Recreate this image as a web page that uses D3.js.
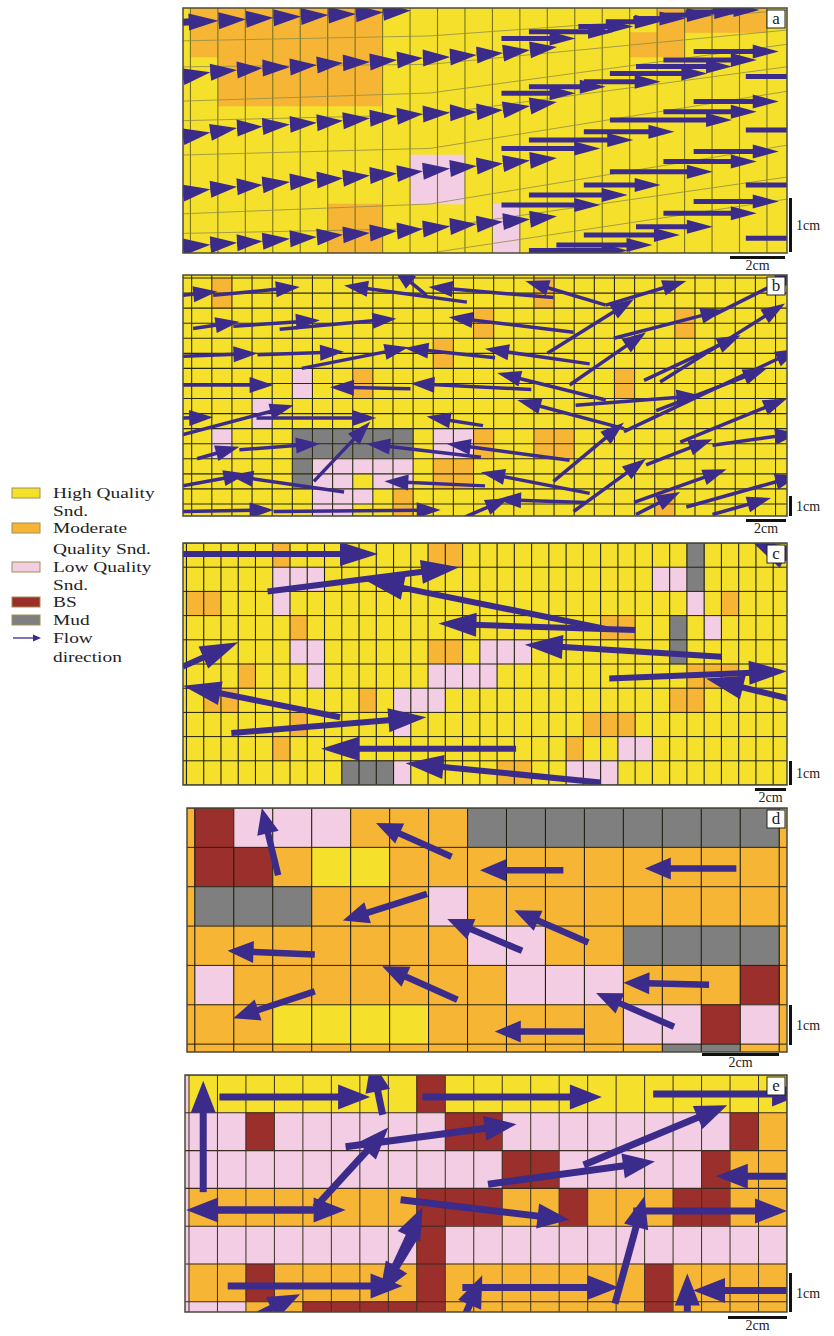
<!DOCTYPE html>
<html>
<head>
<meta charset="utf-8">
<script src="https://cdn.jsdelivr.net/npm/d3@7/dist/d3.min.js"></script>
<style>
body { margin: 0; background: #fff; }
text { font-family: "Liberation Serif", "DejaVu Serif", serif; fill: #222; }
</style>
</head>
<body>
<div id="svg"></div>
<script>
var fills = {Y: "#f5e12b", O: "#f6b535", P: "#f2cde3", B: "#9a2f2b", G: "#7f7f7f"};
var arrowColor = "#3b2b8b";

// legend
var legendKeys = ["Y", "O", "P", "B", "G"];
var legendLines = [["High Quality", "Snd."], ["Moderate", "Quality Snd."], ["Low Quality", "Snd."], ["BS"], ["Mud"]];
var flowLines = ["Flow", "direction"];

// panel a : 22 cols x 10 rows, cells as [row, firstCol, lastCol, type]
var aSpans = [[0,0,6,"O"],[1,0,6,"O"],[2,1,6,"O"],[3,1,6,"O"],[0,17,20,"O"],[1,16,17,"O"],
  [6,8,9,"P"],[7,8,9,"P"],[8,11,11,"P"],[9,11,11,"P"],[8,5,6,"O"],[9,5,6,"O"]];
// thin slanted boundaries [col,row] points
var aRowLines = [[[0,1.34],[9,1.14],[22,0.1]], [[0,2.4],[9,2.3],[22,0.9]], [[0,3.8],[9,3.47],[22,1.48]],
  [[0,4.6],[9,4.35],[22,2.4]], [[0,6.0],[9,5.73],[22,3.4]], [[0,8.4],[9,8.0],[22,5.6]],
  [[0,9.2],[9,9.0],[22,6.9]], [[9,10],[22,7.8]]];
// chains of arrows: tail then successive heads [col,row]
var aChains = [
  [[0,0.58],[1.3,0.52],[2.3,0.46],[3.3,0.4],[4.3,0.35],[5.3,0.29],[6.3,0.24],[7.3,0.17],[8.3,0.1]],
  [[0,2.8],[1.0,2.62],[1.97,2.53],[2.9,2.45],[3.9,2.41],[4.88,2.33],[5.83,2.24],[6.81,2.2],[7.8,2.12],[8.74,2.04],[9.73,2.0],[10.7,1.92],[11.66,1.84],[12.64,1.71],[13.62,1.59]],
  [[0,5.25],[1.0,5.08],[1.97,4.9],[2.9,4.84],[3.9,4.75],[4.88,4.68],[5.83,4.6],[6.81,4.5],[7.8,4.42],[8.74,4.33],[9.73,4.28],[10.7,4.24],[11.66,4.16],[12.64,4.0],[13.62,3.84]],
  [[0,7.55],[1.0,7.4],[1.97,7.3],[2.9,7.22],[3.9,7.1],[4.88,7.02],[5.83,6.95],[6.81,6.84],[7.8,6.76],[8.74,6.66],[9.73,6.55],[10.7,6.45],[11.66,6.35],[12.64,6.22],[13.62,6.12]],
  [[0,9.75],[1.0,9.66],[1.97,9.58],[2.9,9.52],[3.9,9.42],[4.88,9.35],[5.83,9.26],[6.81,9.18],[7.8,9.1],[8.74,9.02],[9.73,8.92],[10.7,8.82],[11.66,8.72],[12.64,8.62],[13.62,8.5]]
];
// horizontal stair arrows [tailCol, headCol, row, hasHead]
var aStairs = [
  [11.6,14.3,1.24,1],[12.6,15.7,0.97,1],[14.4,16.4,0.76,1],[15.4,17.4,0.56,1],[16.4,18.3,0.43,1],[17.4,19.3,0.29,1],[18.3,20.3,0.16,1],[19.3,21.0,0.08,1],
  [18.6,21.7,1.78,1],[17.5,20.9,2.12,1],[16.5,20.0,2.39,1],[15.55,19.1,2.67,1],[20.5,22.2,2.8,0],[14.6,17.4,3.01,1],[12.6,15.4,3.21,1],[11.6,14.3,3.48,1],
  [18.6,21.7,3.82,1],[17.5,20.9,4.23,1],[15.55,20.0,4.57,1],[20.5,22.2,4.98,0],[14.6,17.9,5.05,1],[12.6,16.4,5.39,1],[11.6,15.2,5.73,1],
  [18.6,21.7,5.86,1],[17.5,20.9,6.27,1],[15.55,19.3,6.68,1],[20.5,22.2,7.22,0],[14.6,17.4,7.22,1],[12.6,16.2,7.63,1],[18.6,21.7,7.9,1],[11.6,15.2,8.04,1],
  [17.5,20.9,8.38,1],[16.5,19.3,8.93,1],[14.6,18.1,9.27,1],[20.5,22.2,9.4,0],[13.6,17.1,9.67,1],[12.6,16.2,9.9,1]
];

// panel b : 30 cols x 16 rows
var bSpans = [[0,1,1,"O"],[1,1,1,"O"],[0,17,17,"O"],[1,17,17,"O"],
  [2,14,14,"O"],[3,14,14,"O"],[2,24,24,"O"],[3,24,24,"O"],[4,12,12,"O"],[5,12,12,"O"],
  [6,5,5,"P"],[7,5,5,"P"],[6,8,8,"O"],[7,8,8,"O"],[6,21,21,"O"],[7,21,21,"O"],
  [8,3,3,"P"],[9,3,3,"P"],
  [10,1,1,"P"],[11,1,1,"P"],[10,5,10,"G"],[11,5,10,"G"],[10,12,13,"P"],[11,12,13,"P"],[10,14,14,"O"],[11,14,14,"O"],[10,17,18,"O"],[11,17,18,"O"],
  [12,5,5,"G"],[13,5,5,"G"],[12,6,10,"P"],[13,6,7,"P"],[13,9,10,"P"],[12,12,13,"O"],[13,12,13,"O"],
  [14,6,8,"P"],[14,10,10,"O"],[15,6,7,"P"],[15,10,10,"O"],[14,23,23,"O"],[15,23,23,"O"]];
var bArrows = [
  [0,1.35,1.7,1.1],[1.5,1.35,5.8,0.8],[14.1,1.8,8.0,0.7],[18.4,1.5,12.2,0.8],[12.1,1.35,10.4,-0.5],
  [21.0,2.0,17.0,0.4],[21.0,2.0,25.0,0.4],[0.5,3.55,2.8,3.1],[2.5,3.4,6.8,3.0],[4.8,3.6,10.6,2.9],
  [19.4,3.8,13.2,2.8],[18.1,5.2,22.4,1.6],[21.4,4.2,26.9,2.3],[26.3,2.7,30.6,-0.2],[23.7,7.1,29.9,1.9],
  [0,5.4,3.7,5.2],[3.7,5.3,8.0,5.1],[5.9,6.2,11.2,4.8],[15.5,5.5,11.0,4.85],[20.2,5.9,15.0,4.9],
  [19.2,7.3,23.0,3.8],[22.9,7.0,27.7,4.0],[0,7.3,4.5,7.3],[11.3,7.55,7.3,7.45],[17.3,7.6,11.3,7.2],
  [21.0,8.3,15.6,6.5],[21.9,10.2,16.6,8.3],[19.5,8.65,25.7,8.0],[23.5,9.0,29.0,6.2],[24.7,11.1,30.0,8.2],
  [18.4,13.7,21.9,9.8],[21.9,10.4,30.6,4.9],[19.4,15.7,23.0,12.2],[23.0,12.6,26.3,10.9],[26.3,11.3,30.6,10.5],
  [22.4,15.1,27.0,12.9],[22.5,15.9,24.7,14.4],[26.3,15.9,29.2,14.8],[25.0,15.4,30.6,13.3],[20.2,14.5,14.8,13.1],
  [19.2,12.3,13.1,11.2],[0,9.5,1.5,9.45],[0,10.6,5.5,8.65],[3.65,9.5,9.6,9.5],[14.9,10.0,12.1,9.4],
  [6.5,13.7,9.3,9.75],[0.7,12.2,2.8,11.4],[2.8,11.6,6.8,11.2],[14.8,12.1,9.1,11.2],[0,14.0,3.2,13.2],
  [8.0,14.4,2.3,13.3],[0,15.7,4.5,15.6],[4.5,15.7,12.8,15.6],[15.0,14.0,10.0,13.7],[13.6,16.3,16.2,14.8],
  [20.0,15.1,15.6,14.9]
];

// panel c : 35 cols x 10 rows
var cSpans = [[0,5,5,"O"],[0,14,15,"O"],[0,29,29,"G"],[1,29,29,"G"],
  [1,5,7,"P"],[2,5,5,"P"],[1,27,28,"P"],[2,29,29,"P"],[2,0,1,"O"],[2,31,31,"O"],
  [3,6,6,"O"],[3,24,25,"O"],[3,28,28,"G"],[4,28,28,"G"],[3,30,30,"P"],
  [4,6,7,"P"],[4,14,15,"O"],[4,17,19,"P"],
  [5,7,7,"P"],[5,3,3,"O"],[5,14,17,"P"],[5,29,31,"O"],
  [6,10,10,"O"],[6,12,14,"P"],[6,28,29,"O"],[6,1,2,"O"],
  [7,6,6,"O"],[7,12,12,"P"],[7,23,25,"O"],
  [8,5,5,"O"],[8,22,22,"O"],[8,25,26,"P"],
  [9,9,11,"G"],[9,12,12,"P"],[9,18,19,"O"],[9,22,24,"P"]];
var cArrows = [
  [0,0.45,11.3,0.45],[4.9,2.0,16.0,1.0],[24.5,3.55,10.6,1.55],[26.2,3.6,14.8,3.33],
  [31.2,4.7,19.8,4.2],[24.7,5.6,35.0,5.3],[35.5,6.5,30.3,5.6],[35.8,0.9,32.9,-0.1],
  [0,5.1,3.2,4.1],[9.1,7.2,0,5.9],[2.8,7.85,14.1,7.2],[19.3,8.5,8.0,8.5],[24.2,9.9,12.9,9.1]
];

// panel d : 15 cols x 6 rows (+ bottom sliver)
var dRows = ["BPPPOOOGGGGGGGG", "BBOYYOOOOOOOOOO", "GGGOOOPOOOOOOOO", "OOOOOOOPPOOGGGG",
  "POOOOOOOPPPOOOB", "OOYYYYOOOOOPPBP", "OOOOOOOOOOOOGGO"];
var dArrows = [
  [2.14,1.71,1.72,0.0],[6.59,1.24,4.65,0.38],[9.46,1.58,7.32,1.58],[13.9,1.54,11.55,1.54],
  [5.96,2.18,3.8,2.86],[8.4,3.63,6.48,2.82],[10.1,3.42,8.2,2.6],[3.08,3.72,0.84,3.63],
  [6.74,4.87,4.81,4.02],[13.2,4.49,11.0,4.44],[3.08,4.66,0.99,5.34],[12.3,5.56,10.3,4.7],
  [10.0,5.68,7.7,5.68]
];

// panel e : 21 cols x 6 rows (+ bottom sliver)
var eRows = ["YYYYYYYYBYYYYYYYYYYYY", "PPBPPPPPPBBPPPPPPPPBO", "PPPPPPPPPPPBBPPPPPBOO",
  "OOOOOOOOBBBOOBOOOBBOO", "PPPPPPPPBPPPPPPPPPPPP", "OOBOOOOOBOOOOOOOBOOOO", "PPOOBBBBBOOOOOOOBOOOO"];
var eArrows = [
  [0.5,3.1,0.5,0.15],[1.07,0.58,6.36,0.58],[6.8,1.05,6.4,-0.4],[8.2,0.58,14.5,0.58],[16.3,0.5,21.6,0.5],
  [5.5,1.9,11.5,1.3],[4.43,3.5,7.0,1.39],[13.86,2.38,18.9,0.8],[10.5,2.89,16.36,2.29],[21.2,2.68,18.5,2.68],
  [4.36,3.57,-0.1,3.57],[0.93,3.57,5.5,3.57],[7.43,3.3,13.36,3.83],[8.0,4.2,6.7,5.8],[6.9,5.6,8.2,3.5],
  [1.36,5.58,7.5,5.58],[2.4,6.35,3.9,5.8],[14.96,6.05,16.0,3.2],[15.6,3.6,21.0,3.6],[9.6,5.62,15.1,5.62],
  [9.7,6.35,10.3,5.3],[17.5,6.35,17.5,5.25],[21.2,5.7,17.7,5.7]
];

var svg = d3.select("#svg").append("svg").attr("width", 834).attr("height", 1336);

function spanCells(spans) {
  return spans.map(function(s) { return {r: s[0], c0: s[1], c1: s[2], k: s[3]}; });
}
function rowCells(rows) {
  var out = [];
  rows.forEach(function(str, r) {
    str.split("").forEach(function(ch, c) { out.push({r: r, c0: c, c1: c, k: ch}); });
  });
  return out;
}

function drawArrows(g, x, y, list, st) {
  list.forEach(function(d) {
    var x1 = x(d[0]), y1 = y(d[1]), x2 = x(d[2]), y2 = y(d[3]);
    var dx = x2 - x1, dy = y2 - y1, L = Math.sqrt(dx * dx + dy * dy);
    var ux = dx / L, uy = dy / L;
    var head = d[4] !== 0;
    var hl = Math.min(st.hl, L), hw = st.hw / 2;
    var bx = x2 - ux * hl, by = y2 - uy * hl;
    g.append("line")
      .attr("x1", x1).attr("y1", y1)
      .attr("x2", head ? bx + ux * 3 : x2).attr("y2", head ? by + uy * 3 : y2)
      .attr("stroke", arrowColor).attr("stroke-width", st.sw);
    if (head) {
      g.append("path")
        .attr("d", "M" + x2 + "," + y2 + "L" + (bx - uy * hw) + "," + (by + ux * hw) +
                   "L" + (bx + uy * hw) + "," + (by - ux * hw) + "Z")
        .attr("fill", arrowColor);
    }
  });
}

function panel(cfg) {
  var b = cfg.box;
  var x = d3.scaleLinear().domain(cfg.xd).range([b[0], b[2]]);
  var y = d3.scaleLinear().domain(cfg.yd).range([b[1], b[3]]);
  var ox = cfg.off[0], oy = cfg.off[1];

  svg.append("clipPath").attr("id", "clip-" + cfg.id)
    .append("rect").attr("x", b[0]).attr("y", b[1]).attr("width", b[2] - b[0]).attr("height", b[3] - b[1]);
  var g = svg.append("g").attr("clip-path", "url(#clip-" + cfg.id + ")");

  g.append("rect").attr("x", b[0]).attr("y", b[1]).attr("width", b[2] - b[0]).attr("height", b[3] - b[1])
    .attr("fill", fills[cfg.bg]);

  g.selectAll("rect.cell").data(cfg.cells).enter().append("rect")
    .attr("class", "cell")
    .attr("x", function(d) { return x(d.c0 + ox); })
    .attr("width", function(d) { return x(d.c1 + 1 + ox) - x(d.c0 + ox); })
    .attr("y", function(d) { return y(d.r + oy); })
    .attr("height", function(d) { return y(d.r + 1 + oy) - y(d.r + oy); })
    .attr("fill", function(d) { return fills[d.k]; })
    .attr("stroke", function(d) { return fills[d.k]; })
    .attr("stroke-width", 0.6);

  var vx = d3.range(Math.floor(cfg.xd[0]), Math.ceil(cfg.xd[1]) + 1).map(function(k) { return k + ox; });
  g.selectAll("line.v").data(vx).enter().append("line")
    .attr("x1", function(d) { return x(d); }).attr("x2", function(d) { return x(d); })
    .attr("y1", b[1]).attr("y2", b[3])
    .attr("stroke", cfg.vline[0]).attr("stroke-width", cfg.vline[1]);

  if (cfg.hline) {
    var hy = d3.range(Math.floor(cfg.yd[0]), Math.ceil(cfg.yd[1]) + 1).map(function(k) { return k + oy; });
    g.selectAll("line.h").data(hy).enter().append("line")
      .attr("y1", function(d) { return y(d); }).attr("y2", function(d) { return y(d); })
      .attr("x1", b[0]).attr("x2", b[2])
      .attr("stroke", cfg.hline[0]).attr("stroke-width", cfg.hline[1]);
  }

  // frame
  svg.append("rect").attr("x", b[0]).attr("y", b[1]).attr("width", b[2] - b[0]).attr("height", b[3] - b[1])
    .attr("fill", "none").attr("stroke", "#4a4a3a").attr("stroke-width", 1.5);

  return {x: x, y: y, g: g, box: b};
}

function decorate(p, label, sb) {
  var b = p.box;
  svg.append("rect").attr("x", b[2] - 20).attr("y", b[1] + 2).attr("width", 18).attr("height", 18)
    .attr("fill", "#fff").attr("stroke", "#222").attr("stroke-width", 1);
  svg.append("text").attr("x", b[2] - 11).attr("y", b[1] + 16).attr("text-anchor", "middle")
    .style("font-size", "17px").text(label);
  // scale bars
  svg.append("rect").attr("x", 789).attr("y", sb.v[0]).attr("width", 3).attr("height", sb.v[1] - sb.v[0]).attr("fill", "#111");
  svg.append("text").attr("x", 796).attr("y", (sb.v[0] + sb.v[1]) / 2 + 5).style("font-size", "14px").text("1cm");
  svg.append("rect").attr("x", sb.h[0]).attr("y", sb.h[2]).attr("width", sb.h[1] - sb.h[0]).attr("height", 3).attr("fill", "#111");
  svg.append("text").attr("x", (sb.h[0] + sb.h[1]) / 2).attr("y", sb.h[2] + 14).attr("text-anchor", "middle")
    .style("font-size", "14px").text("2cm");
}

// ---- panel a
var pa = panel({id: "a", box: [183, 8, 787, 253], xd: [0, 22], yd: [0, 10], off: [0.27, 0], bg: "Y",
  cells: spanCells(aSpans), vline: ["#77731f", 1.1]});
var rowLine = d3.line().x(function(d) { return pa.x(d[0]); }).y(function(d) { return pa.y(d[1]); });
pa.g.selectAll("path.rl").data(aRowLines).enter().append("path")
  .attr("d", rowLine).attr("fill", "none").attr("stroke", "#8f8d4a").attr("stroke-width", 0.8);
var aChainArrows = [];
aChains.forEach(function(ch) {
  for (var i = 1; i < ch.length; i++) aChainArrows.push([ch[i - 1][0], ch[i - 1][1], ch[i][0], ch[i][1]]);
});
drawArrows(pa.g, pa.x, pa.y, aStairs.map(function(s) { return [s[0], s[2], s[1], s[2], s[3]]; }), {sw: 5, hl: 26, hw: 14});
drawArrows(pa.g, pa.x, pa.y, aChainArrows, {sw: 7, hl: 30, hw: 17});
decorate(pa, "a", {v: [198, 252], h: [730, 785, 256]});

// ---- panel b
var pb = panel({id: "b", box: [183, 275, 787, 516], xd: [0, 30], yd: [0, 16], off: [0.43, 0.2], bg: "Y",
  cells: spanCells(bSpans), vline: ["#2a2a14", 1.1], hline: ["#2a2a14", 1.1]});
drawArrows(pb.g, pb.x, pb.y, bArrows, {sw: 3.5, hl: 24, hw: 16});
decorate(pb, "b", {v: [496, 516], h: [746, 786, 519]});

// ---- panel c
var pc = panel({id: "c", box: [183, 543, 787, 785], xd: [0, 35], yd: [0, 10], off: [0.2, 0], bg: "Y",
  cells: spanCells(cSpans), vline: ["#1e1e10", 1.1], hline: ["#1e1e10", 1.0]});
drawArrows(pc.g, pc.x, pc.y, cArrows, {sw: 6, hl: 38, hw: 24});
decorate(pc, "c", {v: [761, 785], h: [755, 786, 788]});

// ---- panel d
var pd = panel({id: "d", box: [187, 808, 787, 1052], xd: [-0.2, 15.2], yd: [0, 6.2], off: [0, 0], bg: "O",
  cells: rowCells(dRows), vline: ["#1e1e10", 1.1], hline: ["#2a2010", 1.0]});
drawArrows(pd.g, pd.x, pd.y, dArrows, {sw: 6.5, hl: 26, hw: 22});
decorate(pd, "d", {v: [1005, 1045], h: [702, 779, 1053]});

// ---- panel e
var pe = panel({id: "e", box: [185, 1075, 787, 1312], xd: [-0.14, 21], yd: [0, 6.27], off: [0, 0], bg: "P",
  cells: rowCells(eRows), vline: ["#3a3020", 1.0], hline: ["#3a2a20", 1.1]});
drawArrows(pe.g, pe.x, pe.y, eArrows, {sw: 7, hl: 32, hw: 25});
decorate(pe, "e", {v: [1273, 1312], h: [728, 787, 1316]});

// ---- legend (text slightly widened to match the original lettering)
var leg = svg.append("g");
var legText = svg.append("g").attr("transform", "translate(53,0) scale(1.25,1)");
var lineY = [[493, 511], [528, 549], [567, 585], [602], [620]];
legendKeys.forEach(function(k, i) {
  leg.append("rect").attr("x", 12).attr("y", lineY[i][0] - 5).attr("width", 28).attr("height", 10)
    .attr("fill", fills[k]).attr("stroke", "#a09050").attr("stroke-width", 1);
  legendLines[i].forEach(function(t, j) {
    legText.append("text").attr("x", 0).attr("y", lineY[i][j] + 5.5).style("font-size", "15.5px").text(t);
  });
});
leg.append("line").attr("x1", 13).attr("y1", 638).attr("x2", 35).attr("y2", 638)
  .attr("stroke", arrowColor).attr("stroke-width", 1.3);
leg.append("path").attr("d", "M41,638L33,634.5L33,641.5Z").attr("fill", arrowColor);
flowLines.forEach(function(t, j) {
  legText.append("text").attr("x", 0).attr("y", [638, 657][j] + 5.5).style("font-size", "15.5px").text(t);
});
</script>
</body>
</html>
